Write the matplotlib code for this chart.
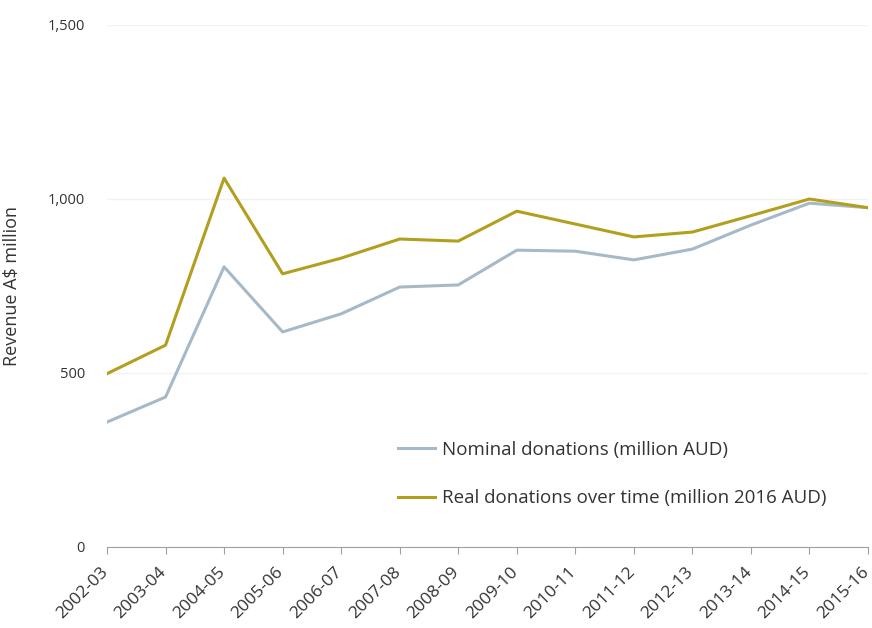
import matplotlib
matplotlib.use("Agg")
import matplotlib.pyplot as plt
from matplotlib.ticker import FuncFormatter
from matplotlib.transforms import ScaledTranslation

years = ["2002-03", "2003-04", "2004-05", "2005-06", "2006-07", "2007-08", "2008-09",
         "2009-10", "2010-11", "2011-12", "2012-13", "2013-14", "2014-15", "2015-16"]
nominal = [359, 431, 805, 618, 670, 747, 753, 853, 850, 825, 856, 925, 988, 975]
real = [498, 580, 1060, 785, 830, 885, 879, 965, 928, 891, 905, 952, 1000, 975]

plt.rcParams['font.family'] = ['Open Sans', 'DejaVu Sans']

fig = plt.figure(figsize=(8.72, 6.28), dpi=100)
ax = fig.add_axes([107/872, 1 - 547/628, (868 - 107)/872, (547 - 25)/628])

x = list(range(len(years)))
ax.plot(x, nominal, color="#a6b9c9", lw=2.2, label="Nominal donations (million AUD)")
ax.plot(x, real, color="#b29f1d", lw=2.2, label="Real donations over time (million 2016 AUD)")

ax.set_xlim(0, len(years) - 1)
ax.set_ylim(0, 1500)
ax.set_yticks([0, 500, 1000, 1500])
ax.yaxis.set_major_formatter(FuncFormatter(lambda v, p: f"{int(v):,}"))
ax.grid(axis="y", color="#f2f2f2", lw=1)
ax.set_axisbelow(True)
for s in ["left", "right", "top"]:
    ax.spines[s].set_visible(False)
ax.spines["bottom"].set_color("#a0a0a0")
ax.tick_params(axis="y", length=0, pad=16, labelsize=10.5, labelcolor="#333333")
ax.tick_params(axis="x", length=5, color="#a0a0a0", labelsize=12.5, labelcolor="#333333", pad=7)
ax.set_xticks(x)
ax.set_xticklabels(years, rotation=45, ha="right", rotation_mode="anchor")
shift = ScaledTranslation(-7/100, 0, fig.dpi_scale_trans)
for lab in ax.get_xticklabels():
    lab.set_transform(lab.get_transform() + shift)
ax.set_ylabel("Revenue A$ million", fontsize=13, color="#333333")
ax.yaxis.set_label_coords(-(107 - 21)/761, 0.5)

leg = ax.legend(loc="upper left", bbox_to_anchor=((390 - 107)/761, 1 - (433 - 25)/522),
                frameon=False, fontsize=13.5, handlelength=2.0, handletextpad=0.35,
                labelspacing=1.65, borderaxespad=0)
for t in leg.get_texts():
    t.set_color("#333333")

fig.savefig("out.png", dpi=100)
